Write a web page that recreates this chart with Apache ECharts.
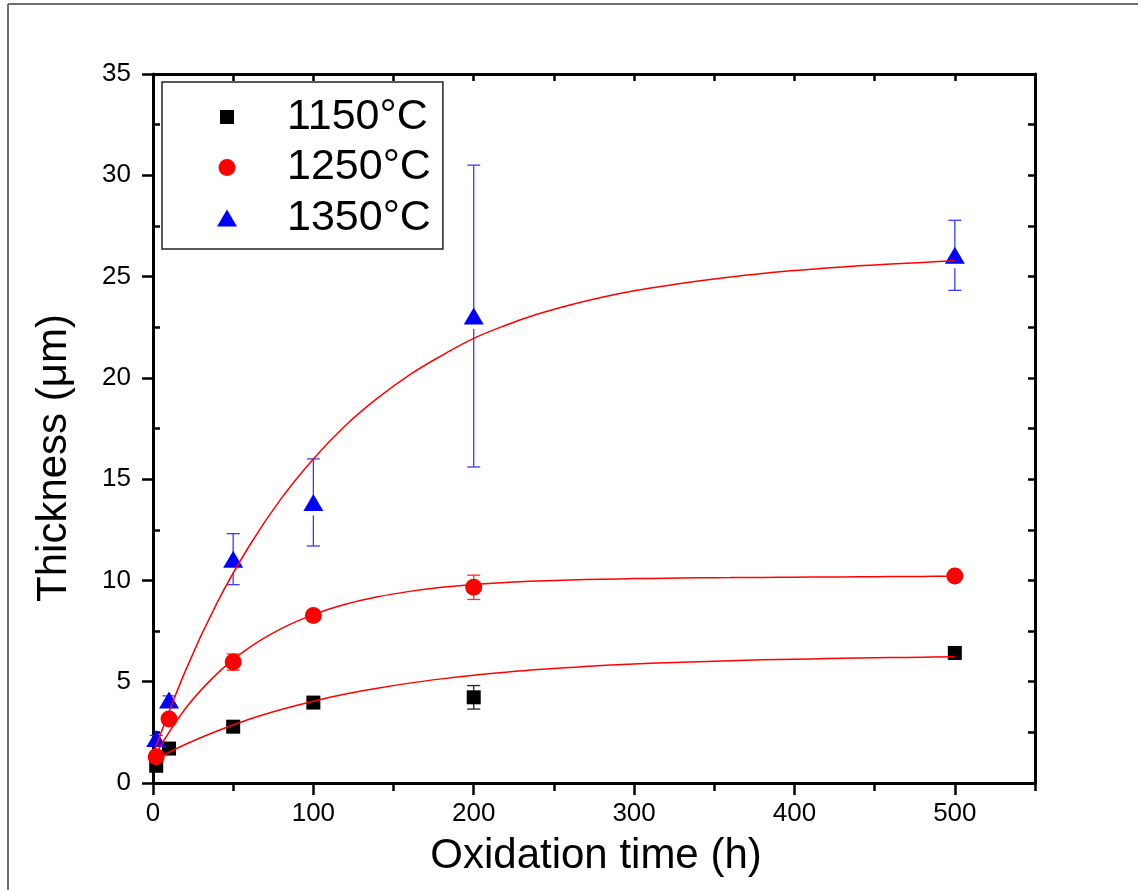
<!DOCTYPE html>
<html>
<head>
<meta charset="utf-8">
<script src="https://cdn.jsdelivr.net/npm/echarts@6/dist/echarts.min.js"></script>
<style>
html,body{margin:0;padding:0;background:#fff;}
#chart{width:1138px;height:890px;}
</style>
</head>
<body>
<div id="chart"></div>
<script>
// ---- data ----
const seriesNames = ['1150°C', '1250°C', '1350°C'];
const times = [2, 10, 50, 100, 200, 500];
const thick1150 = [0.85, 1.7, 2.78, 3.97, 4.23, 6.42];
const err1150   = [0, 0, 0, 0, 0.58, 0];
const thick1250 = [1.3, 3.16, 5.97, 8.27, 9.66, 10.22];
const err1250   = [0.2, 0.15, 0.4, 0.2, 0.6, 0.15];
const thick1350 = [2.2, 4.1, 11.05, 13.85, 23.05, 26.05];
const err1350   = [0.15, 0.2, 1.26, 2.15, 7.45, 1.73];

// fitted curves (every 20 h)
const fitX    = [0, 20, 40, 60, 80, 100, 120, 140, 160, 180, 200, 220, 240, 260, 280, 300, 320, 340, 360, 380, 400, 420, 440, 460, 480, 500];
const fit1150 = [1.1, 1.9, 2.57, 3.15, 3.63, 4.04, 4.39, 4.68, 4.93, 5.14, 5.32, 5.47, 5.6, 5.7, 5.8, 5.87, 5.94, 5.99, 6.04, 6.08, 6.11, 6.14, 6.17, 6.19, 6.21, 6.23];
const fit1250 = [1.2, 3.65, 5.4, 6.68, 7.62, 8.31, 8.82, 9.19, 9.46, 9.66, 9.8, 9.9, 9.97, 10.02, 10.06, 10.09, 10.11, 10.13, 10.14, 10.15, 10.16, 10.17, 10.18, 10.19, 10.2, 10.21];
const fit1350 = [1.4, 5.5, 8.9, 11.7, 14.05, 16.0, 17.65, 19.0, 20.15, 21.1, 21.95, 22.6, 23.15, 23.6, 23.98, 24.3, 24.55, 24.78, 24.98, 25.15, 25.3, 25.42, 25.53, 25.62, 25.7, 25.78];

const xMajorTicks = [0, 100, 200, 300, 400, 500];
const xTitle = 'Oxidation time (h)';
const yTitle = 'Thickness (μm)';

const FONT = '"Liberation Sans", Arial, Helvetica, sans-serif';
const chart = echarts.init(document.getElementById('chart'), null, {renderer: 'canvas'});

function pairs(xs, ys) { return xs.map((x, i) => [x, ys[i]]); }
function errData(xs, ys, es) { return xs.map((x, i) => [x, ys[i] - es[i], ys[i] + es[i], ys[i]]); }

function errRender(color, gapBelow) {
  return function (params, api) {
    const x = api.value(0), lo = api.value(1), hi = api.value(2), yc = api.value(3);
    if (hi - lo <= 0) return null;
    const pHi = api.coord([x, hi]), pLo = api.coord([x, lo]), pC = api.coord([x, yc]);
    const cap = 6.5;
    const st = {stroke: color, lineWidth: 1.3};
    const children = [
      {type: 'line', shape: {x1: pHi[0], y1: pHi[1], x2: pC[0], y2: pC[1]}, style: st},
      {type: 'line', shape: {x1: pC[0], y1: Math.min(pC[1] + gapBelow, pLo[1]), x2: pLo[0], y2: pLo[1]}, style: st},
      {type: 'line', shape: {x1: pHi[0] - cap, y1: pHi[1], x2: pHi[0] + cap, y2: pHi[1]}, style: st},
      {type: 'line', shape: {x1: pLo[0] - cap, y1: pLo[1], x2: pLo[0] + cap, y2: pLo[1]}, style: st}
    ];
    return {type: 'group', children: children};
  };
}

const axisLineStyle = {color: '#000', width: 3};
const tickLine = {color: '#000', width: 2.5};

const option = {
  animation: false,
  backgroundColor: '#fff',
  grid: {left: 153, right: 103, top: 74, bottom: 107, containLabel: false},
  legend: {
    orient: 'vertical',
    left: 162, top: 82,
    padding: [13.5, 12, 9.5, 55],
    itemGap: 7.5,
    itemWidth: 20, itemHeight: 17,
    borderColor: '#222', borderWidth: 1.5,
    backgroundColor: '#fff',
    selectedMode: false,
    textStyle: {fontSize: 43, lineHeight: 43, color: '#000', fontFamily: FONT, padding: [0, 0, 0, 45]},
    data: [
      {name: seriesNames[0], icon: 'path://M0,0M20,17M3,1.5h14v14h-14z'},
      {name: seriesNames[1], icon: 'circle'},
      {name: seriesNames[2], icon: 'triangle'}
    ]
  },
  xAxis: [
    { // major ticks + labels
      type: 'value', min: 0, max: 550, interval: 100, position: 'bottom',
      axisLine: {show: true, onZero: false, lineStyle: axisLineStyle},
      axisTick: {show: true, length: 12, lineStyle: tickLine, customValues: xMajorTicks},
      axisLabel: {fontSize: 26, color: '#000', fontFamily: FONT, margin: 18, customValues: xMajorTicks,
        formatter: v => (v > 500 ? '' : String(v))},
      splitLine: {show: false}
    },
    { // minor ticks bottom
      type: 'value', min: 0, max: 550, interval: 50, position: 'bottom',
      axisLine: {show: false, onZero: false},
      axisTick: {show: true, length: 8, lineStyle: tickLine},
      axisLabel: {show: false},
      splitLine: {show: false}
    },
    { // top frame
      type: 'value', min: 0, max: 550, interval: 50, position: 'top',
      axisLine: {show: true, onZero: false, lineStyle: axisLineStyle},
      axisTick: {show: true, inside: true, length: 7, lineStyle: tickLine},
      axisLabel: {show: false},
      splitLine: {show: false}
    }
  ],
  yAxis: [
    { // left, major out + labels
      type: 'value', min: 0, max: 35, interval: 5, position: 'left',
      axisLine: {show: true, onZero: false, lineStyle: axisLineStyle},
      axisTick: {show: true, length: 11, lineStyle: tickLine},
      axisLabel: {fontSize: 26, color: '#000', fontFamily: FONT, margin: 22},
      splitLine: {show: false}
    },
    { // left minor ticks inside
      type: 'value', min: 0, max: 35, interval: 5, position: 'left',
      axisLine: {show: false, onZero: false},
      axisTick: {show: false, inside: true},
      minorTick: {show: true, splitNumber: 2, length: 7, lineStyle: tickLine},
      axisLabel: {show: false},
      splitLine: {show: false}, minorSplitLine: {show: false}
    },
    { // right frame
      type: 'value', min: 0, max: 35, interval: 2.5, position: 'right',
      axisLine: {show: true, onZero: false, lineStyle: axisLineStyle},
      axisTick: {show: true, inside: true, length: 7, lineStyle: tickLine},
      axisLabel: {show: false},
      splitLine: {show: false}
    }
  ],
  graphic: [
    {type: 'line', shape: {x1: 8, y1: 4, x2: 1138, y2: 4}, style: {stroke: '#6f6f6f', lineWidth: 2}, z: 100},
    {type: 'line', shape: {x1: 8, y1: 4, x2: 8, y2: 890}, style: {stroke: '#6f6f6f', lineWidth: 2}, z: 100},
    {type: 'text', x: 596, y: 856, z: 100,
      style: {text: xTitle, fontSize: 42, fontFamily: FONT, fill: '#000', align: 'center', verticalAlign: 'middle'}},
    {type: 'text', x: 54, y: 458, rotation: Math.PI / 2, z: 100,
      style: {text: yTitle, fontSize: 42, fontFamily: FONT, fill: '#000', align: 'center', verticalAlign: 'middle'}}
  ],
  series: [
    {type: 'custom', name: 'err1150', xAxisIndex: 0, yAxisIndex: 0, z: 1,
      renderItem: errRender('#222', 0), encode: {x: 0, y: [1, 2]}, data: errData(times, thick1150, err1150)},
    {type: 'custom', name: 'err1250', xAxisIndex: 0, yAxisIndex: 0, z: 1,
      renderItem: errRender('#ff2a2a', 0), encode: {x: 0, y: [1, 2]}, data: errData(times, thick1250, err1250)},
    {type: 'custom', name: 'err1350', xAxisIndex: 0, yAxisIndex: 0, z: 1,
      renderItem: errRender('#3a3aff', 13), encode: {x: 0, y: [1, 2]}, data: errData(times, thick1350, err1350)},
    {type: 'scatter', name: seriesNames[0], symbol: 'rect', symbolSize: 14, z: 2,
      itemStyle: {color: '#000', opacity: 1}, data: pairs(times, thick1150)},
    {type: 'scatter', name: seriesNames[1], symbol: 'circle', symbolSize: 17, z: 2,
      itemStyle: {color: '#ff0000', opacity: 1}, data: pairs(times, thick1250)},
    {type: 'scatter', name: seriesNames[2], symbol: 'triangle', symbolSize: [20, 17], z: 2,
      itemStyle: {color: '#0000ff', opacity: 1}, data: pairs(times, thick1350)},
    {type: 'line', name: 'fit1150', smooth: 0.4, showSymbol: false, z: 3,
      lineStyle: {color: '#ff0000', width: 1.5}, data: pairs(fitX, fit1150)},
    {type: 'line', name: 'fit1250', smooth: 0.4, showSymbol: false, z: 3,
      lineStyle: {color: '#ff0000', width: 1.5}, data: pairs(fitX, fit1250)},
    {type: 'line', name: 'fit1350', smooth: 0.4, showSymbol: false, z: 3,
      lineStyle: {color: '#ff0000', width: 1.5}, data: pairs(fitX, fit1350)}
  ]
};
chart.setOption(option);
</script>
</body>
</html>
